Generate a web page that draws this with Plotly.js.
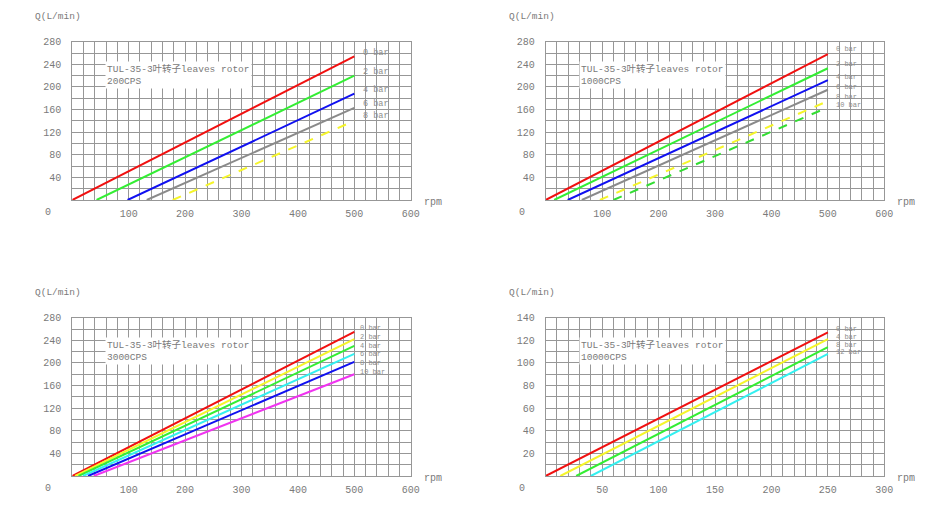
<!DOCTYPE html>
<html>
<head>
<meta charset="utf-8">
<script src="https://cdn.plot.ly/plotly-3.0.1.min.js"></script>
<style>
  html, body { margin: 0; padding: 0; background: #fff; }
  #chart { width: 950px; height: 512px; }
</style>
</head>
<body>
<div id="chart"></div>
<script type="text/javascript">

    /* * Data - one block per viscosity * */
    var pump_title = 'TUL-35-3叶转子leaves rotor';

    /* * Chart 1 - 200CPS * */
    var cps200_labels = ['0 bar', '2 bar', '4 bar', '6 bar', '8 bar'];
    var cps200_start_rpm = [0, 43, 98, 132, 178];
    var cps200_end_rpm = [500, 500, 500, 500, 500];
    var cps200_end_q = [254, 220, 188, 163, 140];

    /* * Chart 2 - 1000CPS * */
    var cps1000_labels = ['0 bar', '2 bar', '4 bar', '6 bar', '8 bar', '10 bar'];
    var cps1000_start_rpm = [0, 15, 39, 64, 96, 120];
    var cps1000_end_rpm = [500, 500, 500, 500, 500, 500];
    var cps1000_end_q = [258, 233, 212, 195, 175, 164];

    /* * Chart 3 - 3000CPS * */
    var cps3000_labels = ['0 bar', '2 bar', '4 bar', '6 bar', '8 bar', '10 bar'];
    var cps3000_start_rpm = [0, 5, 11, 19, 28, 38];
    var cps3000_end_rpm = [500, 500, 500, 500, 500, 500];
    var cps3000_end_q = [255, 242, 230, 216, 202, 180];

    /* * Chart 4 - 10000CPS * */
    var cps10000_labels = ['0 bar', '4 bar', '8 bar', '12 bar'];
    var cps10000_start_rpm = [0, 13, 27, 40];
    var cps10000_end_rpm = [250, 250, 250, 250];
    var cps10000_end_q = [127, 121, 114, 108];

    /* * Tick labels * */
    var rpm_ticks_500 = [100, 200, 300, 400, 500, 600];
    var q_ticks_280 = [40, 80, 120, 160, 200, 240, 280];
    var rpm_ticks_250 = [50, 100, 150, 200, 250, 300];
    var q_ticks_140 = [20, 40, 60, 80, 100, 120, 140];

    /* * Utilities * */
    var W = 950, H = 512;
    var px = function(x) { return x / W; };
    var py = function(y) { return 1 - y / H; };
    var font_family = '"Liberation Mono", "Noto Sans CJK SC", monospace';
    var grid_color = '#979797';
    var text_color = '#7a7a7a';

    var build_traces = function(axis_id, labels, start_rpm, end_rpm, end_q, styles) {
        var out = [];
        for (var i = 0; i < labels.length; i++) {
            out.push({
                x: [start_rpm[i], end_rpm[i]],
                y: [0, end_q[i]],
                name: labels[i],
                type: 'scatter',
                mode: 'lines',
                xaxis: 'x' + axis_id,
                yaxis: 'y' + axis_id,
                line: { color: styles[i].color, width: 2, dash: styles[i].dash || 'solid' },
                hoverinfo: 'skip'
            });
        }
        return out;
    };

    var make_xaxis = function(domain, anchor, max, ticks, minor) {
        return {
            domain: domain, anchor: anchor, range: [0, max],
            tickmode: 'array', tickvals: ticks, ticks: '',
            ticklabelstandoff: 4,
            showgrid: true, gridcolor: grid_color, gridwidth: 1,
            minor: { dtick: minor, showgrid: true, gridcolor: grid_color, gridwidth: 1 },
            showline: true, mirror: true, linecolor: grid_color, linewidth: 1,
            zeroline: false, fixedrange: true,
            tickfont: { family: font_family, size: 10, color: text_color }
        };
    };

    var make_yaxis = function(domain, anchor, max, ticks, minor) {
        return {
            domain: domain, anchor: anchor, range: [0, max],
            tickmode: 'array', tickvals: ticks, ticks: '',
            ticklabelstandoff: 8,
            showgrid: true, gridcolor: grid_color, gridwidth: 1,
            minor: { dtick: minor, showgrid: true, gridcolor: grid_color, gridwidth: 1 },
            showline: true, mirror: true, linecolor: grid_color, linewidth: 1,
            zeroline: false, fixedrange: true,
            tickfont: { family: font_family, size: 10, color: text_color }
        };
    };

    /* * Traces * */
    var red = { color: '#f01010' };
    var green = { color: '#33ee33' };
    var blue = { color: '#1010f0' };
    var gray = { color: '#8a8a8a' };
    var yellow_dash = { color: '#f5f52a', dash: 'dash' };
    var green_dash = { color: '#33dd33', dash: 'dash' };
    var yellow = { color: '#f5f52a' };
    var cyan = { color: '#33f0f0' };
    var magenta = { color: '#f033f0' };

    var data = []
        .concat(build_traces('', cps200_labels, cps200_start_rpm, cps200_end_rpm, cps200_end_q,
            [red, green, blue, gray, yellow_dash]))
        .concat(build_traces('2', cps1000_labels, cps1000_start_rpm, cps1000_end_rpm, cps1000_end_q,
            [red, green, blue, gray, yellow_dash, green_dash]))
        .concat(build_traces('3', cps3000_labels, cps3000_start_rpm, cps3000_end_rpm, cps3000_end_q,
            [red, yellow, green, cyan, blue, magenta]))
        .concat(build_traces('4', cps10000_labels, cps10000_start_rpm, cps10000_end_rpm, cps10000_end_q,
            [red, yellow, green, cyan]));

    /* * Panel geometry (pixels) * */
    var left_x = [px(72.3), px(410.7)];
    var right_x = [px(545.7), px(884.3)];
    var top_y = [py(200), py(41.7)];
    var bottom_y = [py(476), py(317.7)];

    /* * Annotations * */
    var annotations = [];
    var add_text = function(x, y, text, size, color, xanchor, yanchor, extra) {
        var a = {
            xref: 'paper', yref: 'paper', x: px(x), y: py(y), text: text,
            showarrow: false, xanchor: xanchor || 'center', yanchor: yanchor || 'middle',
            font: { family: font_family, size: size, color: color || text_color }
        };
        for (var k in extra) { a[k] = extra[k]; }
        annotations.push(a);
    };

    var panels = [
        { ox: 72.3, oy: 200, top: 41.7, right: 410.7, sub: '200CPS',
          labels: cps200_labels, label_x: 361, label_y: [53, 72, 90, 104, 116], label_size: 8.5 },
        { ox: 545.7, oy: 200, top: 41.7, right: 884.3, sub: '1000CPS',
          labels: cps1000_labels, label_x: 834, label_y: [49, 64, 77, 87, 97, 105], label_size: 7 },
        { ox: 72.3, oy: 476, top: 317.7, right: 410.7, sub: '3000CPS',
          labels: cps3000_labels, label_x: 358, label_y: [328, 337, 346, 354, 363, 372], label_size: 7 },
        { ox: 545.7, oy: 476, top: 317.7, right: 884.3, sub: '10000CPS',
          labels: cps10000_labels, label_x: 834, label_y: [329, 337, 345, 352], label_size: 7 }
    ];

    for (var p in panels) {
        var pn = panels[p];
        add_text(pn.ox - 24, pn.oy + 12, '0', 10);
        add_text(pn.right + 22, pn.oy + 2, 'rpm', 10);
        add_text(pn.ox - 14, pn.top - 25, 'Q(L/min)', 9.5);
        add_text(pn.ox + 33, pn.top + 19, pump_title + '<br>' + pn.sub, 9.5, text_color, 'left', 'top',
            { align: 'left', bgcolor: '#ffffff', borderpad: 1 });
        for (var j in pn.labels) {
            add_text(pn.label_x, pn.label_y[j], pn.labels[j], pn.label_size, '#8c8c8c', 'left', 'middle');
        }
    }

    var layout = {
        width: W, height: H,
        margin: { l: 0, r: 0, t: 0, b: 0 },
        paper_bgcolor: '#ffffff', plot_bgcolor: '#ffffff',
        showlegend: false,
        xaxis: make_xaxis(left_x, 'y', 600, rpm_ticks_500, 20),
        yaxis: make_yaxis(top_y, 'x', 280, q_ticks_280, 20),
        xaxis2: make_xaxis(right_x, 'y2', 600, rpm_ticks_500, 20),
        yaxis2: make_yaxis(top_y, 'x2', 280, q_ticks_280, 20),
        xaxis3: make_xaxis(left_x, 'y3', 600, rpm_ticks_500, 20),
        yaxis3: make_yaxis(bottom_y, 'x3', 280, q_ticks_280, 20),
        xaxis4: make_xaxis(right_x, 'y4', 300, rpm_ticks_250, 10),
        yaxis4: make_yaxis(bottom_y, 'x4', 140, q_ticks_140, 10),
        annotations: annotations
    };

    Plotly.newPlot(document.getElementById('chart'), data, layout, { displayModeBar: false, staticPlot: true });

</script>
</body>
</html>
